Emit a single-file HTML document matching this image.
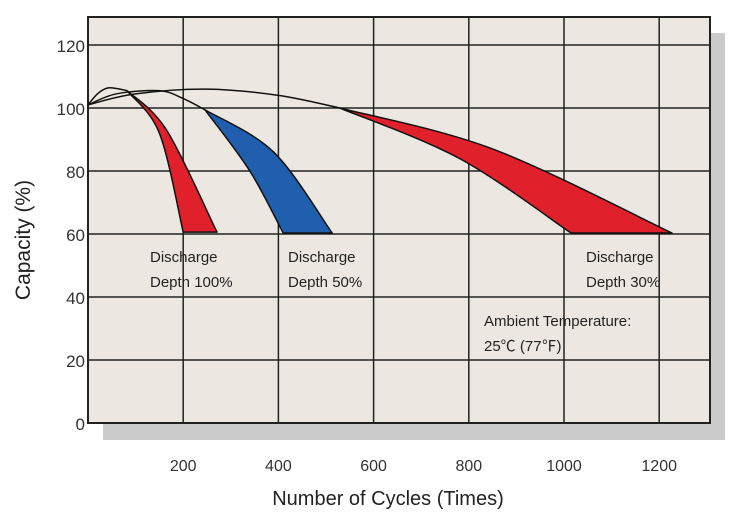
<!DOCTYPE html>
<html><head><meta charset="utf-8"><style>
body{margin:0;background:#fff;}
svg{display:block;font-family:"Liberation Sans","Noto Sans CJK SC",sans-serif;}
</style></head><body>
<svg id="chart" width="742" height="527" viewBox="0 0 742 527">
<rect x="103" y="33" width="622" height="407" fill="#cbcbcb"/>
<rect x="88" y="17" width="622" height="406" fill="#ece8e1" stroke="#222" stroke-width="2"/>
<g id="grid"></g><g id="marks"></g><g id="labels"></g>
<text transform="translate(30,240) rotate(-90)" text-anchor="middle" font-size="21" fill="#222">Capacity (%)</text>
<text x="388" y="505" text-anchor="middle" font-size="20" fill="#222">Number of Cycles (Times)</text>
<text font-size="15" fill="#222"><tspan x="150" y="262">Discharge</tspan><tspan x="150" y="287">Depth 100%</tspan></text>
<text font-size="15" fill="#222"><tspan x="288" y="262">Discharge</tspan><tspan x="288" y="287">Depth 50%</tspan></text>
<text font-size="15" fill="#222"><tspan x="586" y="262">Discharge</tspan><tspan x="586" y="287">Depth 30%</tspan></text>
<text font-size="15" fill="#222"><tspan x="484" y="326">Ambient Temperature:</tspan><tspan x="484" y="351">25℃ (77℉)</tspan></text>
</svg>
<script>
const xTicks=[200,400,600,800,1000,1200];
const yTicks=[0,20,40,60,80,100,120];
// band edges (cycles, capacity %), top to bottom
const red100Left=[[82,105.5],[150,92],[200,60.6]];
const red100Right=[[82,105.5],[165,93],[271,60.6]];
const blue50Left=[[246,99.4],[340,80],[410,60.3]];
const blue50Right=[[246,99.4],[390,86],[513,60.3]];
const red30Lower=[[529,100],[780,84],[1015,60.3]];
const red30Upper=[[529,100],[850,87],[1227,60.3]];
const arc1=[[0,101],[20,104.5],[40,106.3],[60,106.2],[82,105.5]];
const arc2=[[0,101],[60,104.5],[150,105.5],[200,103],[246,99.4]];
const arc3=[[0,101],[100,104.5],[250,106],[400,104],[529,100]];
const X=v=>88+v*0.476, Y=v=>423-v*3.15;
const ns="http://www.w3.org/2000/svg";
function mk(t,p,a){const e=document.createElementNS(ns,t);for(const k in a)e.setAttribute(k,a[k]);p.appendChild(e);return e;}
const g=document.getElementById('grid'),m=document.getElementById('marks'),lb=document.getElementById('labels');
xTicks.forEach(t=>{const l=mk('line',g,{x1:X(t),x2:X(t),y1:17,y2:423,stroke:'#222','stroke-width':1.5});

const tx=mk('text',lb,{x:X(t),y:471,'text-anchor':'middle','font-size':16,fill:'#333'});tx.textContent=t;
});
yTicks.forEach(t=>{if(t>0){const l=mk('line',g,{x1:88,x2:710,y1:Y(t),y2:Y(t),stroke:'#222','stroke-width':1.5});
}
const tx=mk('text',lb,{x:85,y:Y(t)+7,'text-anchor':'end','font-size':17,fill:'#333'});tx.textContent=t;
});
function smooth(pts){const P=pts.map(p=>[X(p[0]),Y(p[1])]);let d='';
for(let i=0;i<P.length-1;i++){const p0=P[i-1]||P[i],p1=P[i],p2=P[i+1],p3=P[i+2]||P[i+1];
const c1=[p1[0]+(p2[0]-p0[0])/6,p1[1]+(p2[1]-p0[1])/6],c2=[p2[0]-(p3[0]-p1[0])/6,p2[1]-(p3[1]-p1[1])/6];
d+=` C${c1[0]},${c1[1]} ${c2[0]},${c2[1]} ${p2[0]},${p2[1]}`;}return d;}
function band(L,R,color,name){const rr=R.slice().reverse();
const d=`M${X(L[0][0])},${Y(L[0][1])}`+smooth(L)+` L${X(rr[0][0])},${Y(rr[0][1])}`+smooth(rr)+'Z';
const p=mk('path',m,{d:d,fill:color,stroke:'#111','stroke-width':1.5,'stroke-linejoin':'round'});
}
band(red100Left,red100Right,'#e0202a','band-depth-100');
band(blue50Left,blue50Right,'#1f5fae','band-depth-50');
band(red30Lower,red30Upper,'#e0202a','band-depth-30');
function arc(a,name){const p=mk('path',m,{d:`M${X(a[0][0])},${Y(a[0][1])}`+smooth(a),fill:'none',stroke:'#111','stroke-width':1.5});
}
arc(arc1,'arc-depth-100');arc(arc2,'arc-depth-50');arc(arc3,'arc-depth-30');
</script>
</body></html>
